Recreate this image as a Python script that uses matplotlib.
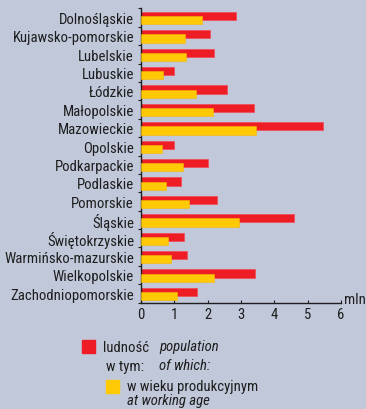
import matplotlib
matplotlib.use("Agg")
import matplotlib.pyplot as plt
import numpy as np

# Voivodeships and population figures (millions)
regions = [
    "Dolnośląskie", "Kujawsko-pomorskie", "Lubelskie", "Lubuskie", "Łódzkie",
    "Małopolskie", "Mazowieckie", "Opolskie", "Podkarpackie", "Podlaskie",
    "Pomorskie", "Śląskie", "Świętokrzyskie", "Warmińsko-mazurskie",
    "Wielkopolskie", "Zachodniopomorskie",
]
population = [2.84, 2.07, 2.19, 1.00, 2.59, 3.39, 5.47, 0.98, 2.02, 1.21,
              2.27, 4.59, 1.29, 1.39, 3.41, 1.67]
working_age = [1.84, 1.32, 1.35, 0.66, 1.64, 2.15, 3.45, 0.64, 1.27, 0.74,
               1.44, 2.94, 0.80, 0.90, 2.18, 1.09]
x_ticks = [0, 1, 2, 3, 4, 5, 6]

BG = "#C1C8DA"
RED = "#EE1D25"
YELLOW = "#FFC905"
TXT = "#1E1E1E"
FAMILY = ["Roboto Condensed", "DejaVu Sans"]
FS = 10.6

plt.rcParams["font.family"] = FAMILY

W, H = 366, 409
fig = plt.figure(figsize=(W / 100, H / 100), dpi=100, facecolor=BG)
ax = fig.add_axes([141 / W, 1 - 302.7 / H, 200 / W, (302.7 - 8.3) / H])
ax.set_facecolor(BG)

pos = np.arange(len(regions))
ax.barh(pos - 0.085, population, height=0.45, color=RED,
        edgecolor="#F0505C", linewidth=0.6, zorder=2)
ax.barh(pos + 0.14, working_age, height=0.44, color=YELLOW,
        edgecolor="#F5B800", linewidth=0.4, zorder=3)

ax.set_xlim(0, 6)
ax.set_ylim(len(regions) - 0.5, -0.5)

ax.set_xticks(x_ticks)
ax.set_xticklabels([str(t) for t in x_ticks], fontsize=FS, color=TXT)
ax.tick_params(axis="x", direction="in", length=2.5, width=0.8, pad=4, color=TXT)

ax.set_yticks(pos + 0.04)
ax.set_yticklabels(regions, fontsize=FS, color=TXT)
ax.tick_params(axis="y", which="major", length=0, pad=5)
ax.set_yticks(np.arange(-0.5, len(regions)), minor=True)
ax.tick_params(axis="y", which="minor", direction="out", length=2.5, width=0.8, color=TXT)

for side in ("top", "right"):
    ax.spines[side].set_visible(False)
for side in ("left", "bottom"):
    ax.spines[side].set_color(TXT)
    ax.spines[side].set_linewidth(1.0)

fig.text(344 / W, 1 - 300 / H, "mln", fontsize=FS, va="center", ha="left", color=TXT)

# Legend
def swatch(x, y, c):
    fig.patches.append(plt.Rectangle((x / W, 1 - (y + 13) / H), 13 / W, 13 / H,
                                     transform=fig.transFigure, color=c))

swatch(82, 340, RED)
swatch(106, 380, YELLOW)
fig.text(103 / W, 1 - 347.5 / H, "ludność", fontsize=FS, va="center", color=TXT)
fig.text(159 / W, 1 - 347.5 / H, "population", fontsize=FS, va="center",
         style="italic", color=TXT)
fig.text(106 / W, 1 - 366.5 / H, "w tym:", fontsize=FS, va="center", color=TXT)
fig.text(159 / W, 1 - 366.5 / H, "of which:", fontsize=FS, va="center",
         style="italic", color=TXT)
fig.text(127 / W, 1 - 387 / H, "w wieku produkcyjnym", fontsize=FS, va="center", color=TXT)
fig.text(127 / W, 1 - 401.5 / H, "at working age", fontsize=FS, va="center",
         style="italic", color=TXT)

fig.savefig("out.png", dpi=100, facecolor=BG)
